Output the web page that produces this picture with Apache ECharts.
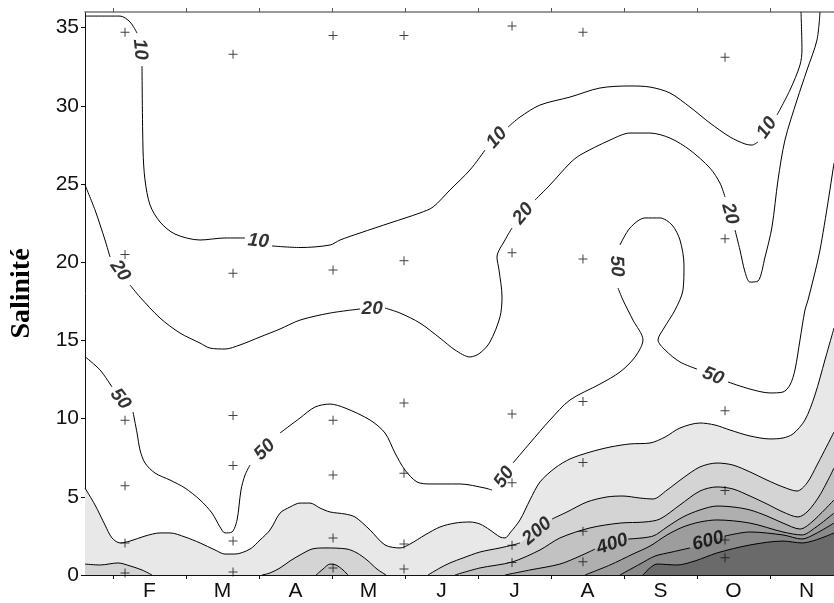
<!DOCTYPE html>
<html><head><meta charset="utf-8">
<script src="https://cdn.jsdelivr.net/npm/echarts@6/dist/echarts.min.js"></script>
<style>html,body{margin:0;padding:0;background:#fff}#c{width:834px;height:603px}</style>
</head><body><div id="c"></div>
<script>
// x = month index (1 = start of February), y = salinity
const months = ['F','M','A','M','J','J','A','S','O','N'];
const monthStarts = [1,2,3,4,5,6,7,8,9,10];
const monthCenters = [1.5,2.5,3.5,4.5,5.5,6.5,7.5,8.5,9.5,10.5];
const salinityTicks = [0,5,10,15,20,25,30,35];

const sampleDates = [1.164, 2.644, 4.014, 4.986, 6.466, 7.438, 9.384];
const sampleSalinities = [
  [34.7,20.5,9.9,5.7,2.05,0.13],
  [33.3,19.3,10.2,7.0,2.17,0.19],
  [34.5,19.5,9.9,6.4,2.37,0.45],
  [34.5,20.1,11.0,6.5,1.98,0.38],
  [35.1,20.6,10.3,5.9,1.9,0.8],
  [34.7,20.2,11.1,7.2,2.8,0.85],
  [33.1,21.5,10.5,5.4,2.24,1.1]
];

// contour polylines (null = gap where a label sits)
const contour10 = [
[0.616,35.74],[1.096,35.74],[1.233,35.36],[1.329,34.65],null,
[1.397,32.54],[1.411,27.17],[1.438,25.26],[1.507,23.66],[1.644,22.57],[1.849,21.80],[2.192,21.42],[2.534,21.55],[2.808,21.55],null,
[3.178,21.04],[3.562,20.94],[3.973,21.10],[4.110,21.42],[4.384,21.87],[4.795,22.51],[5.205,23.15],[5.384,23.53],[5.616,24.62],[5.890,25.90],[6.096,27.17],null,
[6.411,28.64],[6.575,29.28],[6.849,30.05],[7.260,30.56],[7.671,31.14],[8.082,31.27],[8.356,31.20],[8.630,30.82],[8.904,29.92],[9.178,28.90],[9.452,28.01],[9.658,27.56],[9.753,27.49],[9.836,27.69],null,
[10.096,29.41],[10.274,31.01],[10.411,32.61],[10.438,33.57],[10.425,36.0]
];
const contour20 = [
[0.616,24.94],[0.753,23.34],[0.890,21.42],[0.959,20.33],null,
[1.233,18.54],[1.370,17.77],[1.644,16.43],[1.918,15.47],[2.192,14.83],[2.329,14.51],[2.534,14.45],[2.740,14.71],[3.014,15.22],[3.288,15.73],[3.562,16.30],[3.973,16.75],[4.384,17.01],null,
[4.726,17.07],[4.932,16.75],[5.205,16.11],[5.479,15.15],[5.685,14.39],[5.890,13.94],[6.027,14.19],[6.164,14.90],[6.301,16.50],[6.329,17.77],[6.288,19.50],[6.260,20.33],[6.370,21.42],[6.466,22.19],null,
[6.781,23.98],[6.986,24.94],[7.260,26.34],[7.397,26.85],[7.808,27.81],[8.082,28.26],[8.356,28.26],[8.630,27.94],[8.904,27.17],[9.178,26.02],[9.315,25.06],[9.384,24.17],null,
[9.521,22.06],[9.589,20.78],[9.658,19.37],[9.726,18.73],[9.836,18.80],[9.932,20.33],[10.027,22.25],[10.110,25.26],[10.205,27.81],[10.370,30.37],[10.507,32.29],[10.644,34.21],[10.685,36.0]
];
const contour50 = [
[0.616,13.96],[0.822,13.11],[0.986,12.02],null,
[1.274,10.42],[1.329,9.08],[1.370,7.99],[1.438,7.16],[1.575,6.52],[1.781,6.07],[1.986,5.56],[2.192,4.80],[2.356,3.96],[2.466,3.07],[2.534,2.69],[2.630,2.75],[2.699,3.52],[2.753,5.43],[2.808,6.39],[2.877,7.03],null,
[3.288,9.08],[3.562,10.04],[3.767,10.74],[3.973,10.93],[4.178,10.68],[4.521,9.91],[4.726,9.08],[4.863,7.80],[5.000,6.71],[5.164,5.95],[5.342,5.82],[5.753,5.82],[6.096,5.56],[6.192,5.43],null,
[6.479,7.16],[6.712,8.44],[6.986,9.91],[7.260,11.19],[7.671,12.21],[7.945,12.98],[8.151,13.94],[8.260,15.03],[8.123,16.30],[7.986,17.58],[7.918,18.35],null,
[7.945,21.10],[8.082,22.19],[8.288,22.83],[8.493,22.83],[8.658,22.38],[8.767,21.42],[8.822,19.82],[8.808,18.22],[8.699,16.94],[8.548,15.79],[8.466,15.03],[8.562,14.39],[8.767,13.62],[9.000,13.17],null,
[9.425,12.34],[9.726,11.89],[10.000,11.64],[10.178,11.70],[10.274,12.15],[10.342,13.11],[10.411,15.03],[10.479,16.94],[10.521,17.58],[10.685,20.78],[10.877,26.34]
];
const contour100 = [
[0.616,5.56],[0.753,4.48],[0.890,3.20],[0.986,2.37],[1.096,2.05],[1.233,2.17],[1.438,2.49],[1.644,2.69],[1.781,2.69],[1.986,2.43],[2.192,2.05],[2.397,1.60],[2.534,1.34],[2.671,1.34],[2.877,1.66],[3.014,2.24],[3.151,2.88],[3.288,3.96],[3.425,4.35],[3.562,4.60],[3.699,4.60],[3.836,4.28],[3.973,4.03],[4.178,3.90],[4.315,3.71],[4.521,2.88],[4.726,1.92],[4.932,1.73],[5.068,1.98],[5.274,2.56],[5.479,3.07],[5.685,3.32],[5.890,3.39],[6.027,3.26],[6.164,2.88],[6.301,2.43],[6.370,2.37],[6.438,2.69],[6.575,3.52],[6.712,4.80],[6.849,5.95],[7.055,6.84],[7.260,7.42],[7.534,7.86],[7.808,8.18],[8.082,8.38],[8.356,8.44],[8.562,8.82],[8.767,9.40],[9.041,9.72],[9.247,9.59],[9.452,9.27],[9.726,8.89],[10.000,8.70],[10.178,8.76],[10.315,9.02],[10.479,9.91],[10.616,11.51],[10.753,13.75],[10.877,15.79]
];
const contour200a = [[0.616,0.70],[0.822,0.64],[1.068,0.77],[1.233,0.58],[1.397,0.32],[1.534,0]];
const contour200b = [[3.041,0],[3.151,0.13],[3.288,0.45],[3.425,0.90],[3.562,1.28],[3.726,1.66],[3.904,1.73],[4.205,1.66],[4.342,1.41],[4.479,0.96],[4.616,0.38],[4.740,0]];
const contour200c = [
[5.315,0],[5.479,0.45],[5.616,0.77],[5.795,1.09],[6.027,1.47],[6.301,1.73],[6.479,1.92],[6.575,2.05],null,
[7.014,3.58],[7.219,4.03],[7.493,4.67],[7.767,4.99],[7.986,5.05],[8.219,4.92],[8.397,4.86],[8.589,5.43],[8.808,6.20],[9.041,6.91],[9.274,7.16],[9.493,7.03],[9.726,6.59],[9.959,6.07],[10.178,5.63],[10.370,5.37],[10.507,5.88],[10.644,7.03],[10.877,9.14]
];
const contour300a = [[3.781,0],[3.877,0.38],[3.973,0.70],[4.055,0.64],[4.151,0.32],[4.219,0]];
const contour300b = [
[5.685,0],[6.027,0.45],[6.466,0.83],[6.849,1.60],[7.123,2.37],[7.534,3.01],[7.945,3.32],[8.288,3.39],[8.493,3.58],[8.767,4.48],[9.041,5.37],[9.274,5.63],[9.493,5.50],[9.726,5.05],[9.959,4.54],[10.178,4.03],[10.384,3.71],[10.521,4.09],[10.685,5.12],[10.877,6.84]
];
const contour400 = [
[6.370,0],[6.712,0.32],[7.123,0.70],[7.397,1.21],[7.603,1.66],null,
[8.055,2.30],[8.397,2.49],[8.589,3.07],[8.808,3.71],[9.041,4.16],[9.274,4.41],[9.493,4.35],[9.726,4.16],[9.959,3.77],[10.178,3.32],[10.411,2.94],[10.575,3.39],[10.877,4.80]
];
const contour500 = [
[7.466,0],[7.808,0.64],[8.123,1.34],[8.356,1.85],[8.589,2.56],[8.808,3.07],[9.041,3.39],[9.274,3.52],[9.726,3.32],[10.178,2.75],[10.438,2.56],[10.616,3.01],[10.877,3.96]
];
const contour600 = [
[7.945,0],[8.219,0.70],[8.425,1.21],[8.658,1.47],[8.904,1.73],null,
[9.384,2.49],[9.726,2.75],[10.178,2.56],[10.438,2.30],[10.616,2.62],[10.877,3.32]
];
const contour700 = [
[8.260,0],[8.452,0.70],[8.726,0.64],[8.973,0.90],[9.274,1.41],[9.726,1.92],[10.178,2.17],[10.438,2.05],[10.877,2.69]
];

// contour labels: text, x, y, angle along the line
const contourLabels = [
['10',1.37,33.6,-84],['10',2.99,21.35,-6],['10',6.26,27.95,48],['10',9.96,28.6,55],
['20',1.096,19.45,-55],['20',4.55,17.0,0],['20',6.62,23.1,50],['20',9.45,23.1,-74],
['50',1.10,11.25,-52],['50',3.08,8.0,45],['50',6.36,6.25,55],['50',7.90,19.75,-88],['50',9.22,12.72,-22],
['200',6.81,2.8,40],['400',7.84,1.98,18],['600',9.15,2.17,15]
];

const filled = [
  {level:100, lines:[contour100], color:'#e8e8e8'},
  {level:200, lines:[contour200a, contour200b, contour200c], color:'#d4d4d4'},
  {level:300, lines:[contour300a, contour300b], color:'#c2c2c2'},
  {level:400, lines:[contour400], color:'#afafaf'},
  {level:500, lines:[contour500], color:'#9d9d9d'},
  {level:600, lines:[contour600], color:'#8a8a8a'},
  {level:700, lines:[contour700], color:'#6a6a6a'}
];
const allContours = [contour10, contour20, contour50, contour100, contour200a, contour200b, contour200c,
  contour300a, contour300b, contour400, contour500, contour600, contour700];

function segmentsOf(arr){
  const segs=[]; let cur=[];
  arr.forEach(p=>{ if(p===null){ if(cur.length) segs.push(cur); cur=[]; } else cur.push(p); });
  if(cur.length) segs.push(cur);
  return segs;
}
const SM = 0.3;
const series = [];
filled.forEach(f=>{
  f.lines.forEach(l=>{
    series.push({type:'line', data:l.filter(p=>p!==null), smooth:SM, showSymbol:false, silent:true,
      lineStyle:{width:0}, areaStyle:{color:f.color, opacity:1, origin:'start'}, z:1, xAxisIndex:0});
  });
});
allContours.forEach(c=>{
  segmentsOf(c).forEach(s=>{
    series.push({type:'line', data:s, smooth:SM, showSymbol:false, silent:true,
      lineStyle:{width:1, color:'#000'}, z:2, xAxisIndex:0});
  });
});
const samplePts = [];
sampleDates.forEach((d,i)=>sampleSalinities[i].forEach(s=>samplePts.push([d,s])));
series.push({type:'scatter', data:samplePts, symbol:'path://M-0.55,-5H0.55V-0.55H5V0.55H0.55V5H-0.55V0.55H-5V-0.55H-0.55Z',
  symbolSize:9, itemStyle:{color:'#111'}, z:4, silent:true, xAxisIndex:0});
series.push({type:'scatter', z:5, silent:true, symbolSize:1, itemStyle:{color:'rgba(0,0,0,0)'}, xAxisIndex:0,
  data: contourLabels.map(l=>({name:l[0], value:[l[1],l[2]], label:{rotate:l[3]}})),
  label:{show:true, position:'inside', formatter:'{b}', fontFamily:'Liberation Sans', fontWeight:'bold',
    fontStyle:'italic', fontSize:19, color:'#000'}});

const chart = echarts.init(document.getElementById('c'), null, {renderer:'canvas'});
const xBase = {type:'value', min:0.616, max:10.877, splitLine:{show:false}};
chart.setOption({
  animation:false,
  backgroundColor:'#fff',
  grid:{left:85, right:0, top:12, bottom:28, containLabel:false, outerBoundsMode:'none'},
  xAxis:[
    Object.assign({}, xBase, {position:'bottom',
      axisLine:{show:true, onZero:false, lineStyle:{color:'#111', width:1}},
      axisTick:{show:true, customValues:monthStarts, length:4, lineStyle:{color:'#111'}},
      axisLabel:{customValues:monthCenters, formatter:v=>months[Math.round(v-1.5)], fontSize:21,
        fontFamily:'Liberation Sans', color:'#111', margin:6}}),
    Object.assign({}, xBase, {position:'top',
      axisLine:{show:true, onZero:false, lineStyle:{color:'#777', width:1.5}},
      axisTick:{show:true, customValues:monthStarts, length:4, lineStyle:{color:'#555'}},
      axisLabel:{show:false}})
  ],
  yAxis:{type:'value', min:0, max:36, splitLine:{show:false},
    axisLine:{show:true, lineStyle:{color:'#111', width:1}},
    axisTick:{show:true, customValues:salinityTicks, length:4, lineStyle:{color:'#111'}},
    axisLabel:{customValues:salinityTicks, fontSize:21, fontFamily:'Liberation Sans', color:'#111', margin:6},
    name:'Salinité', nameLocation:'middle', nameRotate:90, nameGap:49, nameMoveOverlap:false,
    nameTextStyle:{fontFamily:'Liberation Serif', fontWeight:'bold', fontSize:28, color:'#000'}},
  series:series
});
</script></body></html>
